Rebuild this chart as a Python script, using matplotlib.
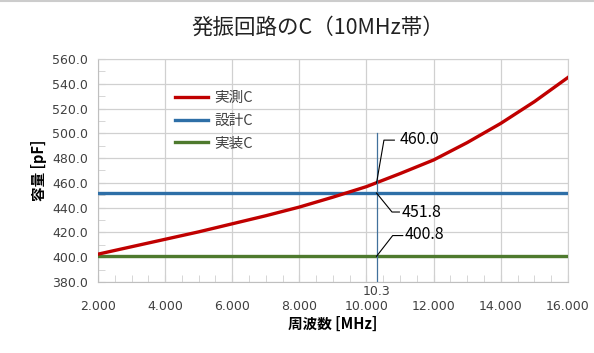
#!/usr/bin/env python

""" oscillator circuit C vs frequency (10MHz band) """

import matplotlib
matplotlib.use('Agg')
import matplotlib.pyplot as plt
from matplotlib.lines import Line2D

plt.rcParams['font.family'] = ['Noto Sans CJK JP', 'DejaVu Sans']

# data
freq = [2, 3, 4, 5, 6, 7, 8, 9, 10, 11, 12, 13, 14, 15, 16]
c_measured = [402.5, 408.5, 414.5, 420.5, 427.0, 433.5, 440.5, 448.5,
              457.0, 467.5, 478.5, 492.5, 508.0, 525.5, 545.0]
c_design = 451.8
c_mounted = 400.8
f_mark = 10.3
c_at_mark = 460.0

labels = ['実測C', '設計C', '実装C']
xticks = [2, 4, 6, 8, 10, 12, 14, 16]
yticks = [380, 400, 420, 440, 460, 480, 500, 520, 540, 560]


def main():
    red = '#C00000'
    blue = '#2E6FA7'
    green = '#4E7A2E'
    grid = '#D0D0D0'
    txt = '#404040'

    fig = plt.figure(figsize=(5.94, 3.53), dpi=100)
    ax = fig.add_axes([0.165, 0.201, 0.791, 0.632])

    ax.plot(freq, c_measured, color=red, lw=2.4, zorder=4)
    ax.plot([freq[0], freq[-1]], [c_design] * 2, color=blue, lw=2.4, zorder=3)
    ax.plot([freq[0], freq[-1]], [c_mounted] * 2, color=green, lw=2.4, zorder=3)

    # marker line at 10.3 MHz
    ax.plot([f_mark, f_mark], [380, 500], color='#41719C', lw=0.9, zorder=5)

    ax.set_xlim(2, 16)
    ax.set_ylim(380, 560)
    ax.set_xticks(xticks)
    ax.set_xticklabels(['%.3f' % v for v in xticks], family='DejaVu Sans')
    ax.set_yticks(yticks)
    ax.set_yticklabels(['%.1f' % v for v in yticks], family='DejaVu Sans')
    ax.set_xticks([x / 2 for x in range(4, 33)], minor=True)
    ax.set_yticks(range(380, 561, 10), minor=True)
    ax.grid(True, which='major', color=grid, lw=0.9)
    ax.tick_params(axis='both', which='both', colors=grid, labelcolor=txt,
                   labelsize=9, direction='in', length=5)
    ax.tick_params(axis='x', pad=13)
    ax.tick_params(axis='y', pad=7)
    for s in ax.spines.values():
        s.set_color(grid)
    ax.spines['left'].set_color('#BFBFBF')
    ax.spines['bottom'].set_color('#BFBFBF')

    # data labels with leader lines
    lead = dict(color='black', lw=0.8)
    ax.plot([f_mark, 10.52, 10.83], [c_at_mark, 494.5, 494.5], **lead, zorder=6)
    ax.text(11.0, 495, '%.1f' % c_at_mark, fontsize=11.5, va='center', color='black')
    ax.plot([f_mark, 10.76, 10.98], [c_design, 436.5, 436.5], **lead, zorder=6)
    ax.text(11.05, 436.3, '%.1f' % c_design, fontsize=11.5, va='center', color='black')
    ax.plot([f_mark, 10.78, 11.08], [c_mounted, 417.5, 417.5], **lead, zorder=6)
    ax.text(11.15, 418, '%.1f' % c_mounted, fontsize=11.5, va='center', color='black')
    ax.text(f_mark, 377.5, '%.1f' % f_mark, fontsize=9, ha='center', va='top',
            color=txt, family='DejaVu Sans')

    ax.set_xlabel('周波数 [MHz]', fontsize=10.5, fontweight='bold', labelpad=2)
    ax.set_ylabel('容量 [pF]', fontsize=10.5, fontweight='bold', labelpad=4)
    fig.text(0.535, 0.922, '発振回路のC（10MHz帯）', fontsize=15.5,
             ha='center', va='center', color='#222222')

    handles = [Line2D([], [], color=c, lw=2.4) for c in (red, blue, green)]
    ax.legend(handles, labels, loc='upper left', bbox_to_anchor=(0.135, 0.915),
              frameon=False, fontsize=10.5, handlelength=2.3, labelspacing=0.6,
              handletextpad=0.45, labelcolor=txt)

    fig.add_artist(Line2D([0, 1], [0.998, 0.998], color='#CCCCCC', lw=1.5))

    plt.savefig('out.png', dpi=100)


if __name__ == "__main__":
    main()
